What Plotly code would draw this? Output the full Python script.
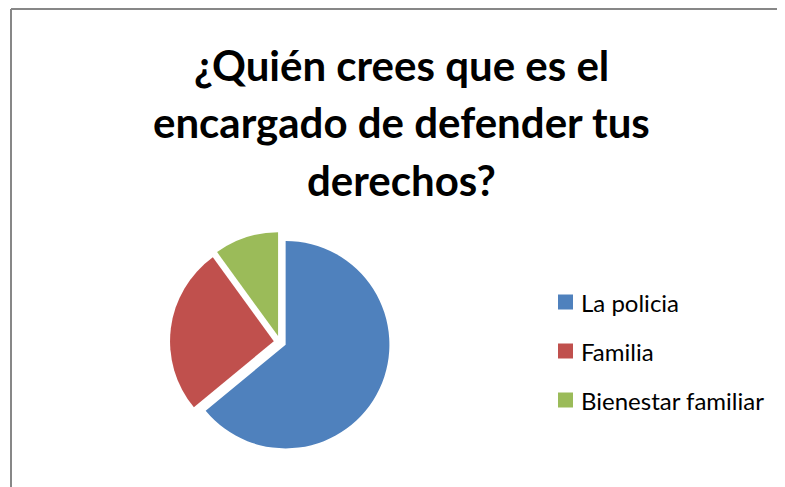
import plotly.graph_objects as go

labels = ["La policia", "Familia", "Bienestar familiar"]
values = [64, 26, 10]
colors = ["#4F81BD", "#C0504D", "#9BBB59"]
title_lines = ["¿Quién crees que es el", "encargado de defender tus", "derechos?"]

OFF = 8  # page body margin
W, H = 785 - OFF, 487 - OFF

def px_x(x):
    return (x - OFF) / W

def px_y(y):
    return 1 - (y - OFF) / H

fig = go.Figure()
fig.add_trace(go.Pie(
    labels=labels, values=values, sort=False, direction="clockwise", rotation=0,
    marker=dict(colors=colors, line=dict(width=0)),
    pull=[0.06, 0.06, 0.06], textinfo="none", showlegend=False,
    domain=dict(x=[px_x(160), px_x(400)], y=[px_y(452), px_y(232)]),
))

annotations = []
for i, line in enumerate(title_lines):
    annotations.append(dict(
        text=f"<b>{line}</b>", x=px_x(401), y=px_y(65 + i * 57.5), xref="paper", yref="paper",
        xanchor="center", yanchor="middle", showarrow=False,
        font=dict(family="Lato", size=42, color="#000000"),
    ))

shapes = [
    dict(type="line", xref="paper", yref="paper", x0=px_x(11), x1=1.02, y0=px_y(9), y1=px_y(9),
         line=dict(color="#878787", width=2)),
    dict(type="line", xref="paper", yref="paper", x0=px_x(11), x1=px_x(11), y0=px_y(9), y1=-0.02,
         line=dict(color="#878787", width=2)),
]
for i, (lab, col) in enumerate(zip(labels, colors)):
    yc = 302 + i * 49
    shapes.append(dict(type="rect", xref="paper", yref="paper",
                       x0=px_x(558), x1=px_x(573), y0=px_y(yc - 7.5), y1=px_y(yc + 7.5),
                       fillcolor=col, line=dict(width=0)))
    annotations.append(dict(
        text=lab, x=px_x(579), y=px_y(yc), xref="paper", yref="paper",
        xanchor="left", yanchor="middle", showarrow=False,
        font=dict(family="Lato", size=24, color="#000000"),
    ))

fig.update_layout(
    width=W, height=H, margin=dict(l=0, r=0, t=0, b=0),
    paper_bgcolor="white", plot_bgcolor="white",
    annotations=annotations, shapes=shapes, showlegend=False,
)
fig.write_html("out.html")
